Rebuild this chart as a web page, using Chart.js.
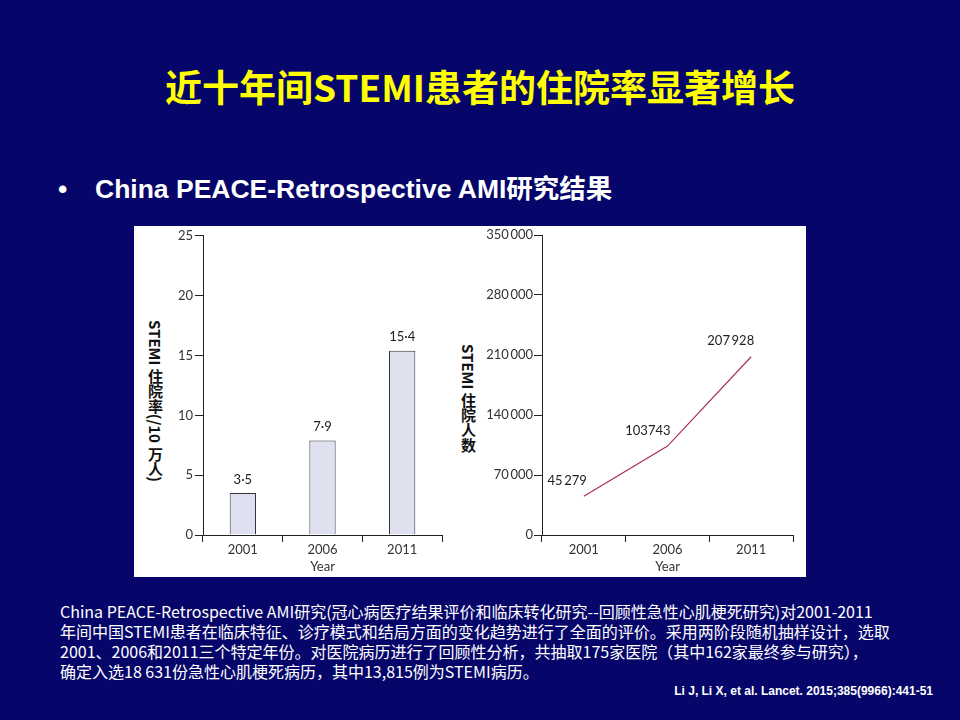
<!DOCTYPE html>
<html>
<head>
<meta charset="utf-8">
<script src="https://cdn.jsdelivr.net/npm/chart.js@4.4.1/dist/chart.umd.min.js"></script>
<style>
  html, body { margin: 0; padding: 0; }
  body {
    width: 960px; height: 720px; position: relative; overflow: hidden;
    background: #06066a;
    font-family: "Noto Sans CJK SC", sans-serif;
  }
  #title {
    position: absolute; left: 0; top: 63px; width: 960px;
    text-align: center; color: #ffff00;
    font-weight: bold; font-size: 37px; line-height: 46px;
  }
  #bullet {
    position: absolute; left: 58px; top: 174px; color: #fff;
    font: bold 26.5px "Liberation Sans", Arial, "Noto Sans CJK SC", sans-serif;
    line-height: 30px; white-space: nowrap;
  }
  #bullet span { display: inline-block; width: 37px; }
  #panel {
    position: absolute; left: 134px; top: 226px; width: 672px; height: 351px;
    background: #fff;
  }
  #panel canvas { position: absolute; top: 0; }
  .ytitle {
    position: absolute; writing-mode: vertical-rl;
    font-weight: bold; font-size: 15px; color: #111; line-height: 18px;
    white-space: nowrap;
  }
  #notes {
    position: absolute; left: 60px; top: 601px; color: #fff;
    font-size: 16px; line-height: 20px; white-space: nowrap;
  }
  #cite {
    position: absolute; right: 27px; top: 684px; color: #fff;
    font: bold 12px "Liberation Sans", Arial, sans-serif;
  }
</style>
</head>
<body>
<div id="title">近十年间STEMI患者的住院率显著增长</div>
<div id="bullet"><span>•</span>China PEACE-Retrospective AMI研究结果</div>

<div id="panel">
  <canvas id="rateChart" width="280" height="351" style="left:36px"></canvas>
  <canvas id="countChart" width="326" height="351" style="left:346px"></canvas>
  <div class="ytitle" style="left:12px; top:94px">STEMI 住院率(/10 万人)</div>
  <div class="ytitle" style="left:325px; top:118px">STEMI 住院人数</div>
</div>

<div id="notes">China PEACE-Retrospective AMI研究(冠心病医疗结果评价和临床转化研究--回顾性急性心肌梗死研究)对2001-2011<br>年间中国STEMI患者在临床特征、诊疗模式和结局方面的变化趋势进行了全面的评价。采用两阶段随机抽样设计，选取<br>2001、2006和2011三个特定年份。对医院病历进行了回顾性分析，共抽取175家医院（其中162家最终参与研究），<br>确定入选18 631份急性心肌梗死病历，其中13,815例为STEMI病历。</div>
<div id="cite">Li J, Li X, et al. Lancet. 2015;385(9966):441-51</div>

<script>
// Data
const years = ['2001', '2006', '2011'];
const rates = [3.5, 7.9, 15.4];          // STEMI admissions per 100 000
const counts = [45279, 103743, 207928];  // STEMI admissions
const rateTicks = [0, 5, 10, 15, 20, 25];
const countTicks = [0, 70000, 140000, 210000, 280000, 350000];

const axisColor = '#222';
const textColor = '#333';
const tickFont = { family: 'Lato', size: 13 };

// Lancet style numbers: middle dot decimals, thin-space thousands
const fmtDecimal = (v) => String(v).replace('.', '\u00b7');
const fmtThousands = (v) => {
  const s = String(v);
  return s.length > 4 ? s.slice(0, -3) + '\u2009' + s.slice(-3) : s;
};

// the 2006 point label is printed without a gap in the source
const countLabels = counts.map((v, i) => i === 1 ? String(v) : fmtThousands(v));

const valueLabels = {
  id: 'valueLabels',
  afterDatasetsDraw(chart, args, opts) {
    const ctx = chart.ctx;
    const meta = chart.getDatasetMeta(0);
    ctx.save();
    ctx.font = '13px Lato';
    ctx.fillStyle = '#222';
    ctx.textAlign = opts.align;
    ctx.textBaseline = 'bottom';
    meta.data.forEach((el, i) => {
      ctx.fillText(opts.labels[i], el.x + opts.dx, el.y + opts.dy);
    });
    ctx.restore();
  }
};

function xScale() {
  return {
    offset: true,
    grid: {
      offset: true, drawOnChartArea: false, drawTicks: true,
      tickLength: 7, color: axisColor, lineWidth: 1
    },
    border: { display: true, color: axisColor, width: 1 },
    ticks: { color: textColor, font: tickFont, padding: 0, maxRotation: 0 },
    title: {
      display: true, text: 'Year', color: textColor,
      font: tickFont, padding: { top: 0, bottom: 2 }
    },
    afterFit: (s) => { s.height = 42; }
  };
}

function yScale(max, ticks, width, fmt, pad) {
  return {
    min: 0, max: max,
    afterBuildTicks: (s) => { s.ticks = ticks.map((v) => ({ value: v })); },
    grid: {
      drawOnChartArea: false, drawTicks: true,
      tickLength: 8, color: axisColor, lineWidth: 1
    },
    border: { display: true, color: axisColor, width: 1 },
    ticks: { color: textColor, font: tickFont, padding: pad, callback: fmt },
    afterFit: (s) => { s.width = width; }
  };
}

new Chart(document.getElementById('rateChart'), {
  type: 'bar',
  data: {
    labels: years,
    datasets: [{
      data: rates,
      backgroundColor: '#dfe1f1',
      borderColor: '#333',
      borderWidth: 1,
      barPercentage: 0.33,
      categoryPercentage: 1
    }]
  },
  options: {
    responsive: false,
    animation: false,
    layout: { padding: { top: 9, right: 8, bottom: 0, left: 0 } },
    scales: {
      x: xScale(),
      y: yScale(25, rateTicks, 33, (v) => v, 2)
    },
    plugins: {
      legend: { display: false },
      tooltip: { enabled: false },
      valueLabels: { labels: rates.map(fmtDecimal), align: 'center', dx: 0, dy: -7 }
    }
  },
  plugins: [valueLabels]
});

new Chart(document.getElementById('countChart'), {
  type: 'line',
  data: {
    labels: years,
    datasets: [{
      data: counts,
      borderColor: '#a8324f',
      borderWidth: 1.2,
      pointRadius: 0,
      tension: 0,
      fill: false
    }]
  },
  options: {
    responsive: false,
    animation: false,
    layout: { padding: { top: 9, right: 13, bottom: 0, left: 0 } },
    scales: {
      x: xScale(),
      y: yScale(350000, countTicks, 62, (v) => fmtThousands(v), 1)
    },
    plugins: {
      legend: { display: false },
      tooltip: { enabled: false },
      valueLabels: { labels: countLabels, align: 'right', dx: 3, dy: -9 }
    }
  },
  plugins: [valueLabels]
});
</script>
</body>
</html>
